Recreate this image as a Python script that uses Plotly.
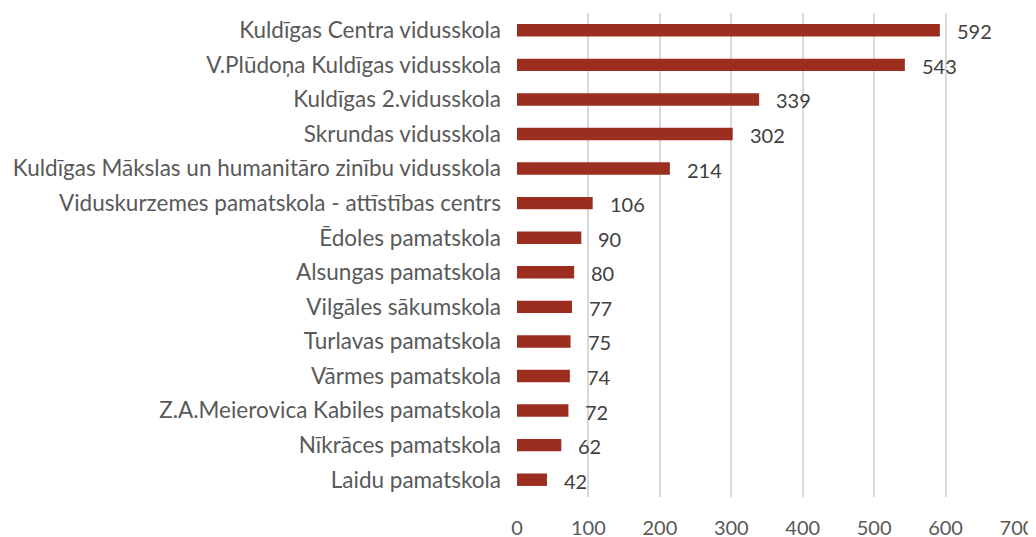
import plotly.graph_objects as go

schools = [
    "Kuldīgas Centra vidusskola",
    "V.Plūdoņa Kuldīgas vidusskola",
    "Kuldīgas 2.vidusskola",
    "Skrundas vidusskola",
    "Kuldīgas Mākslas un humanitāro zinību vidusskola",
    "Viduskurzemes pamatskola - attīstības centrs",
    "Ēdoles pamatskola",
    "Alsungas pamatskola",
    "Vilgāles sākumskola",
    "Turlavas pamatskola",
    "Vārmes pamatskola",
    "Z.A.Meierovica Kabiles pamatskola",
    "Nīkrāces pamatskola",
    "Laidu pamatskola",
]
values = [592, 543, 339, 302, 214, 106, 90, 80, 77, 75, 74, 72, 62, 42]
x_ticks = [0, 100, 200, 300, 400, 500, 600, 700]

BAR = "#9C2E20"
TXT = "#595959"
FONT = "Lato"

fig = go.Figure(go.Bar(
    x=values, y=schools, orientation="h",
    marker=dict(color=BAR, line=dict(width=0)),
    width=0.36,
    hoverinfo="x+y",
))

for s, v in zip(schools, values):
    fig.add_annotation(x=v, y=s, text=str(v), showarrow=False,
                       xanchor="left", xshift=15, yshift=-1,
                       font=dict(family=FONT, size=20, color="#404040"))

# page body adds an 8px offset, so margins are compensated
fig.update_layout(
    width=1036, height=537,
    margin=dict(l=509, r=27, t=5, b=48),
    paper_bgcolor="white", plot_bgcolor="white",
    showlegend=False,
    font=dict(family=FONT, size=18, color=TXT),
)
fig.update_xaxes(range=[0, 700], tickvals=x_ticks, showgrid=True,
                 gridcolor="#D9D9D9", gridwidth=1.5, zeroline=False,
                 showline=False, ticks="", ticklabelstandoff=17,
                 automargin=False,
                 tickfont=dict(family=FONT, size=20, color=TXT))
fig.update_yaxes(autorange="reversed", showgrid=False, showline=False,
                 ticks="", ticklabelstandoff=15, automargin=False,
                 tickfont=dict(family=FONT, size=22.5, color=TXT))

fig.write_html("out.html")
